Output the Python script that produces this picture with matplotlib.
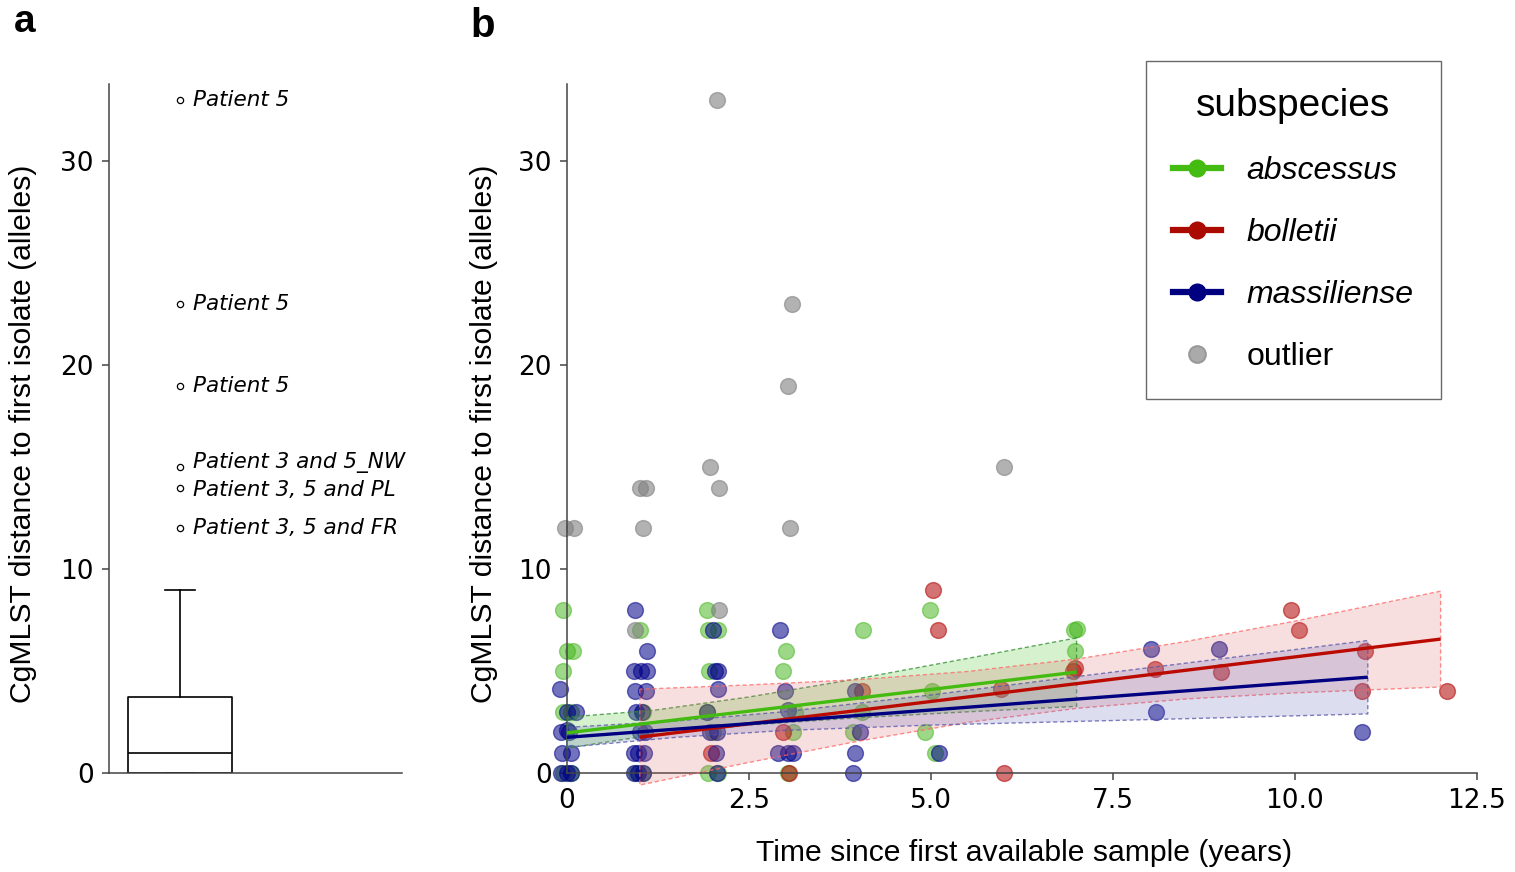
import matplotlib
matplotlib.use("Agg")
import matplotlib.pyplot as plt
from matplotlib.lines import Line2D
import numpy as np

# ---- panel a: summary of allele distances ----
box_q1, box_med, box_q3 = 0, 1, 3.75
whisker_lo, whisker_hi = 0, 9
flier_vals = [33, 23, 19, 15, 14, 12]
flier_text_y = [33, 23, 19, 15.25, 13.9, 12]
flier_labels = ["Patient 5", "Patient 5", "Patient 5", "Patient 3 and 5_NW",
                "Patient 3, 5 and PL", "Patient 3, 5 and FR"]

# ---- panel b: distance vs time, per subspecies ----
abs_x = [-0.06, 0.0, 0.08, -0.06, -0.05, 0.05, -0.05, 0.05,
         1.0, 1.05, 0.95, 1.05,
         1.92, 1.94, 2.07, 1.95, 1.92, 2.0, 1.93, 2.08,
         3.01, 2.97, 3.13, 3.11, 3.03,
         4.07, 4.05, 3.93,
         4.98, 5.02, 4.92, 5.05,
         6.96, 7.0, 6.98]
abs_y = [8, 6, 6, 5, 3, 3, 0, 0,
         7, 3, 0, 0,
         8, 7, 7, 5, 3, 2, 0, 0,
         6, 5, 3, 2, 0,
         7, 3, 2,
         8, 4, 2, 1,
         7, 7.05, 6]

bol_x = [1.98, 2.97, 3.05, 4.05, 5.03, 5.09, 5.96, 6.0, 6.95, 6.98,
         8.08, 8.98, 9.95, 10.05, 10.96, 10.92, 12.09]
bol_y = [1, 2, 0, 4, 9, 7, 4.1, 0, 5, 5.15,
         5.1, 4.95, 8, 7, 6, 4, 4]

mas_x = [-0.1, 0.0, 0.12, -0.08, 0.03, 0.0, -0.07, 0.05, -0.08, 0.05, 0.0,
         0.94, 1.10, 0.92, 1.02, 1.10, 0.93, 1.08, 0.95, 1.03, 1.0, 1.07,
         0.92, 0.98, 1.06, 0.92, 0.98, 1.05,
         2.0, 2.03, 2.07, 2.07, 1.92, 1.97, 2.06, 2.04, 2.06,
         2.93, 2.99, 3.04, 2.9, 3.04, 3.1,
         3.96, 4.03, 3.96, 3.93,
         5.11, 8.02, 8.09, 8.95, 10.92]
mas_y = [4.1, 3, 3, 2, 2, 2.1, 1, 1, 0, 0, 0,
         8, 6, 5, 5, 5, 4, 4, 3, 3, 2, 2,
         1, 1, 1, 0, 0, 0,
         7, 5, 5, 4.1, 3, 2, 2, 1, 0,
         7, 4, 3.1, 1, 1, 1,
         4, 2, 1, 0,
         1, 6.1, 3, 6.1, 2]

out_x = [-0.03, 0.1, 0.93, 1.0, 1.08, 1.05, 2.09, 1.96, 2.09, 2.06,
         3.09, 3.04, 3.06, 6.0]
out_y = [12, 12, 7, 14, 14, 12, 8, 15, 14, 33,
         23, 19, 12, 15]

# fitted trends and confidence bands
abs_fit_x, abs_fit_y = [0, 7], [1.97, 4.95]
abs_band_x = [0, 1.2, 2.5, 4, 5.5, 7]
abs_band_lo = [1.22, 1.88, 2.35, 2.71, 3.0, 3.27]
abs_band_hi = [2.74, 3.08, 3.73, 4.63, 5.62, 6.63]

bol_fit_x, bol_fit_y = [1, 12], [1.76, 6.57]
bol_band_x = [1, 2.5, 4, 5.5, 7, 8.5, 10, 12]
bol_band_lo = [-0.59, 0.52, 1.56, 2.48, 3.17, 3.63, 3.93, 4.22]
bol_band_hi = [4.11, 4.32, 4.58, 4.98, 5.59, 6.45, 7.45, 8.92]

mas_fit_x, mas_fit_y = [0, 11], [1.75, 4.70]
mas_band_x = [0, 1.5, 3, 5, 7, 9, 11]
mas_band_lo = [1.26, 1.75, 2.09, 2.35, 2.53, 2.71, 2.90]
mas_band_hi = [2.24, 2.55, 3.01, 3.83, 4.73, 5.61, 6.50]

xticks = [0, 2.5, 5.0, 7.5, 10.0, 12.5]
xtick_labels = ["0", "2.5", "5.0", "7.5", "10.0", "12.5"]
yticks = [0, 10, 20, 30]

green, red, navy, grey = "#3DB312", "#B00000", "#000088", "#808080"
sans = "Liberation Sans"
ylab = "CgMLST distance to first isolate (alleles)"

fig = plt.figure(figsize=(15.15, 8.72), dpi=100)
W, H = 1515, 872

def axes_px(x0, x1, ytop, ybot):
    return fig.add_axes([x0 / W, 1 - ybot / H, (x1 - x0) / W, (ybot - ytop) / H])

def style_axis(ax):
    for s in ["top", "right"]:
        ax.spines[s].set_visible(False)
    for s in ["left", "bottom"]:
        ax.spines[s].set_color("#444444")
        ax.spines[s].set_linewidth(1.1)
    ax.tick_params(colors="#444444", labelcolor="black", labelsize=19,
                   length=5, width=1.1, pad=6)

# ---------------- panel a ----------------
ax1 = axes_px(109, 402, 84, 773)
stats = [dict(med=box_med, q1=box_q1, q3=box_q3, whislo=whisker_lo,
              whishi=whisker_hi, fliers=flier_vals)]
ax1.bxp(stats, positions=[0.242], widths=0.355, capwidths=0.1,
        boxprops=dict(color="black", linewidth=1.2),
        medianprops=dict(color="black", linewidth=1.2),
        whiskerprops=dict(color="black", linewidth=1.2),
        capprops=dict(color="black", linewidth=1.2),
        flierprops=dict(marker="o", markersize=4.5, markerfacecolor="none",
                        markeredgecolor="black", markeredgewidth=0.9),
        manage_ticks=False)
for yv, lab in zip(flier_text_y, flier_labels):
    ax1.text(0.287, yv, lab, style="italic", fontsize=15.5, va="center",
             ha="left", family="DejaVu Sans")
ax1.set_xlim(0, 1)
ax1.set_ylim(0, 33.8)
ax1.set_xticks([])
ax1.set_yticks(yticks)
style_axis(ax1)
ax1.set_ylabel(ylab, family=sans, fontsize=21.7)
ax1.yaxis.set_label_coords(-0.245, 0.492)

# ---------------- panel b ----------------
ax2 = axes_px(567, 1477, 84, 773)
groups = [
    (abs_x, abs_y, green, 0.5),
    (bol_x, bol_y, red, 0.55),
    (mas_x, mas_y, navy, 0.55),
    (out_x, out_y, grey, 0.6),
]
for gx, gy, col, a in groups:
    ax2.scatter(gx, gy, s=130, color=col, alpha=a, edgecolors=col,
                linewidths=1.0, clip_on=False, zorder=2)

bands = [
    (abs_band_x, abs_band_lo, abs_band_hi, "#5CC83A", "#2E8B2E", 0.25),
    (bol_band_x, bol_band_lo, bol_band_hi, "#D86060", "#FF6666", 0.2),
    (mas_band_x, mas_band_lo, mas_band_hi, "#6666BB", "#5555AA", 0.22),
]
for bx, lo, hi, fc, ec, a in bands:
    ax2.fill_between(bx, lo, hi, facecolor=fc, alpha=a, edgecolor="none",
                     clip_on=False, zorder=3)
    ax2.fill_between(bx, lo, hi, facecolor="none", edgecolor=ec, alpha=0.75,
                     linestyle=(0, (3, 2)), linewidth=1.0, clip_on=False, zorder=3)

for fx, fy, col in [(abs_fit_x, abs_fit_y, "#44BB11"),
                    (bol_fit_x, bol_fit_y, "#BB0A00"),
                    (mas_fit_x, mas_fit_y, "#000080")]:
    ax2.plot(fx, fy, color=col, linewidth=2.4, zorder=4, solid_capstyle="butt")

ax2.set_xlim(0, 12.5)
ax2.set_ylim(0, 33.8)
ax2.set_xticks(xticks)
ax2.set_xticklabels(xtick_labels)
ax2.set_yticks(yticks)
style_axis(ax2)
ax2.set_ylabel(ylab, family=sans, fontsize=21.7)
ax2.yaxis.set_label_coords(-0.076, 0.492)
ax2.set_xlabel("Time since first available sample (years)", family=sans, fontsize=21.7)
ax2.xaxis.set_label_coords(0.502, -0.096)

handles = [
    Line2D([], [], color="#44BB11", lw=4.5, marker="o", markersize=12),
    Line2D([], [], color="#AA0A00", lw=4.5, marker="o", markersize=12),
    Line2D([], [], color="#000080", lw=4.5, marker="o", markersize=12),
    Line2D([], [], color="none", marker="o", markersize=12,
           markerfacecolor="#AAAAAA", markeredgecolor="#999999", markeredgewidth=1.5),
]
leg = ax2.legend(handles, ["abscessus", "bolletii", "massiliense", "outlier"],
                 title="subspecies", loc="upper left",
                 bbox_to_anchor=(1146 / W, 1 - 61 / H), bbox_transform=fig.transFigure,
                 prop=dict(family=sans, style="italic", size=23),
                 title_fontproperties=dict(family=sans, size=28),
                 frameon=True, fancybox=False, edgecolor="#444444",
                 borderpad=0.85, handlelength=1.5, handletextpad=0.8,
                 labelspacing=1.0, borderaxespad=0)
leg.get_frame().set_linewidth(1.0)
leg.get_texts()[3].set_style("normal")

fig.text(25 / W, 1 - 22 / H, "a", family=sans, weight="bold", fontsize=28,
         ha="center", va="center")
fig.text(483 / W, 1 - 26 / H, "b", family=sans, weight="bold", fontsize=29,
         ha="center", va="center")

fig.savefig("out.png", dpi=100)
